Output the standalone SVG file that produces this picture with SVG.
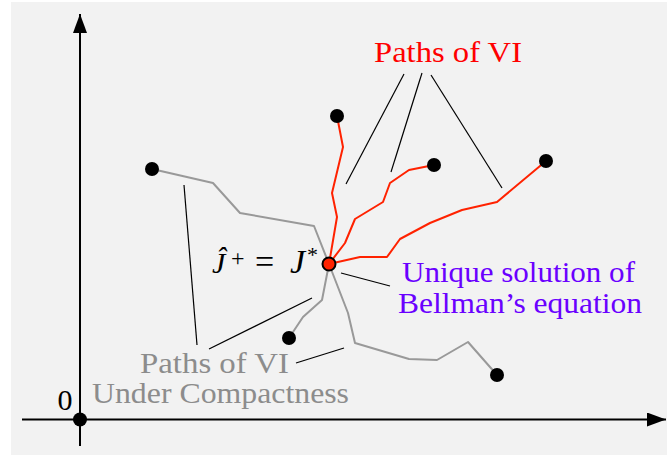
<svg xmlns="http://www.w3.org/2000/svg" width="667" height="458" viewBox="0 0 667 458">
<style>
.txt{font-family:"Liberation Serif","DejaVu Serif",serif;font-size:30px}
.red{stroke:#ff2200;stroke-width:2;fill:none;stroke-linejoin:round;stroke-linecap:round}
.gray{stroke:#999999;stroke-width:2;fill:none;stroke-linejoin:round;stroke-linecap:round}
.lead{stroke:#000;stroke-width:1.2;fill:none}
.dot{fill:#000}
.axis{stroke:#000;stroke-width:2;fill:none}
</style>
<defs>
<marker id="ah" markerWidth="19" markerHeight="14" refX="19" refY="7" orient="auto" markerUnits="userSpaceOnUse">
<path d="M0,0 L19,7 L0,14 Z" fill="#000"/>
</marker>
</defs>
<rect x="11" y="2" width="656" height="453" fill="#f2f2f2"/>
<g id="axes">
<line class="axis" x1="22" y1="419.5" x2="666" y2="419.5" marker-end="url(#ah)"/>
<line class="axis" x1="80" y1="446" x2="80" y2="14" marker-end="url(#ah)"/>
<circle id="origin" cx="80" cy="419.5" r="7" class="dot"/>
<text class="txt" x="65" y="410" text-anchor="middle">0</text>
</g>
<g id="connectors">
<polyline class="gray" points="152,169 213,183 240,213 314,226 329,264"/>
<polyline class="gray" points="329,264 322,300 303,317 289,338"/>
<polyline class="gray" points="329,264 348,313 355,343 409,359 437,360 468,342 497,375"/>
<polyline class="red" points="337,116 343,147 332,193 337,217 329,264"/>
<polyline class="red" points="434,165 409,170 390,183 383,202 355,219 345,243 329,264"/>
<polyline class="red" points="546,161 497,202 462,210 430,223 400,239 387,257 360,257 329,264"/>
<line class="lead" x1="404" y1="74" x2="346" y2="184"/>
<line class="lead" x1="422" y1="73" x2="391" y2="172"/>
<line class="lead" x1="431" y1="75" x2="502" y2="188"/>
<line class="lead" x1="184" y1="185" x2="197" y2="345"/>
<line class="lead" x1="209" y1="349" x2="312" y2="298"/>
<line class="lead" x1="296" y1="363" x2="344" y2="348"/>
<line class="lead" x1="341" y1="273" x2="390" y2="286"/>
</g>
<g id="start-points">
<circle cx="152" cy="169" r="7" class="dot"/>
<circle cx="337" cy="116" r="7" class="dot"/>
<circle cx="434" cy="165" r="7" class="dot"/>
<circle cx="546" cy="161" r="7" class="dot"/>
<circle cx="289" cy="338" r="7" class="dot"/>
<circle cx="497" cy="375" r="7" class="dot"/>
</g>
<g id="jstar">
<circle cx="329" cy="264" r="6.5" fill="#ff2200" stroke="#000" stroke-width="2"/>
<text class="txt" y="273" font-size="32"><tspan x="212" font-style="italic">Ĵ</tspan><tspan x="231" y="266" font-size="24">+</tspan><tspan x="255" y="273" font-size="34">=</tspan><tspan x="290" font-style="italic" font-size="34">J</tspan><tspan x="307" y="262" font-size="22">*</tspan></text>
</g>
<g id="label-vi">
<text class="txt" x="374" y="62" fill="#ff0000" textLength="148" lengthAdjust="spacingAndGlyphs">Paths of VI</text>
</g>
<g id="label-unique">
<text class="txt" x="402" y="282" fill="#6a00ff" textLength="233" lengthAdjust="spacingAndGlyphs">Unique solution of</text>
<text class="txt" x="398" y="313" fill="#6a00ff" textLength="244" lengthAdjust="spacingAndGlyphs">Bellman’s equation</text>
</g>
<g id="label-compact">
<text class="txt" x="140" y="373" font-size="27" fill="#8c8c8c" textLength="149" lengthAdjust="spacingAndGlyphs">Paths of VI</text>
<text class="txt" x="92" y="403" font-size="27" fill="#8c8c8c" textLength="257" lengthAdjust="spacingAndGlyphs">Under Compactness</text>
</g>
</svg>
